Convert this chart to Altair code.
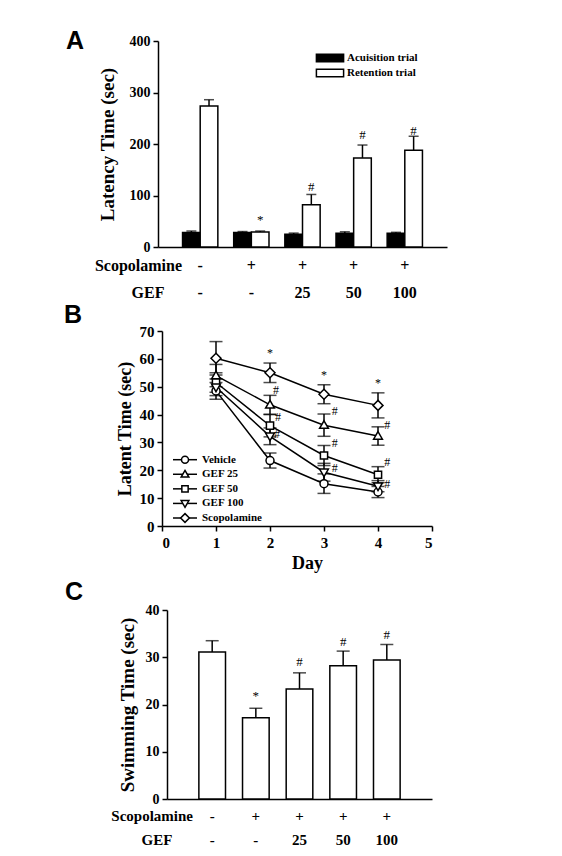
import altair as alt
import pandas as pd

SERIF = "Liberation Serif"
SANS = "Liberation Sans"

# ---------------- Panel A data ----------------
groups = ["G1", "G2", "G3", "G4", "G5"]
scop_row = ["-", "+", "+", "+", "+"]
gef_row = ["-", "-", "25", "50", "100"]
series_a = ["Acuisition trial", "Retention trial"]
acq_mean = [28, 28, 25, 26.5, 26.5]
acq_err = [3, 2, 2, 3, 2]
ret_mean = [274, 29, 82, 173, 188]
ret_err = [12, 2, 20, 25, 27]
a_ann_group = ["G2", "G3", "G4", "G5"]
a_ann_text = ["*", "#", "#", "#"]
a_ann_y = [53, 116, 217, 225]

# ---------------- Panel B data ----------------
days = [1, 2, 3, 4]
series_b = ["Vehicle", "GEF 25", "GEF 50", "GEF 100", "Scopolamine"]
b_mean = {
    "Vehicle": [48.5, 23.5, 15.2, 12.2],
    "GEF 25": [54.0, 43.5, 36.2, 32.3],
    "GEF 50": [51.5, 36.0, 25.3, 18.4],
    "GEF 100": [49.8, 32.2, 19.3, 14.3],
    "Scopolamine": [60.2, 55.0, 47.3, 43.3],
}
b_err = {
    "Vehicle": [3.0, 2.7, 3.5, 2.0],
    "GEF 25": [4.0, 3.4, 4.0, 3.3],
    "GEF 50": [3.5, 4.0, 3.6, 2.9],
    "GEF 100": [3.0, 3.0, 3.2, 2.0],
    "Scopolamine": [6.0, 3.5, 3.4, 4.5],
}
b_ann_x = [2.0, 3.0, 4.0, 2.11, 2.15, 2.13, 3.2, 3.2, 3.2, 4.17, 4.17, 4.17]
b_ann_y = [62.2, 54.1, 51.5, 48.8, 39.1, 32.9, 41.3, 29.9, 20.9, 36.1, 23.0, 15.1]
b_ann_text = ["*", "*", "*", "#", "#", "#", "#", "#", "#", "#", "#", "#"]

# ---------------- Panel C data ----------------
c_mean = [31.1, 17.2, 23.3, 28.2, 29.4]
c_err = [2.4, 2.0, 3.4, 3.1, 3.3]
c_ann_group = ["G2", "G3", "G4", "G5"]
c_ann_text = ["*", "#", "#", "#"]
c_ann_y = [21.8, 29.0, 33.3, 34.8]

# marker shapes (unit = marker radius)
marker_paths = [
    "M1,0A1,1,0,1,1,-1,0A1,1,0,1,1,1,0Z",
    "M0,-1.1L1.1,0.8L-1.1,0.8Z",
    "M-0.9,-0.9H0.9V0.9H-0.9Z",
    "M0,1.1L1.1,-0.8L-1.1,-0.8Z",
    "M0,-1.25L1.25,0L0,1.25L-1.25,0Z",
]
legend_rect_path = "M-3.4,-0.95H3.4V0.95H-3.4Z"


def y_axis(values, title, lab, tsize, tpad, offset=0):
    return alt.Axis(values=values, title=title, titleFont=SERIF, titleFontSize=tsize,
                    titleFontWeight="bold", titleColor="black", titlePadding=tpad,
                    labelFont=SERIF, labelFontSize=lab, labelFontWeight="bold",
                    labelColor="black", labelPadding=3, tickSize=5, tickWidth=1.5,
                    tickColor="black", domainColor="black", domainWidth=1.5, grid=False,
                    offset=offset)


def text_const(txt, x, y, **kw):
    return alt.Chart(pd.DataFrame({"t": [txt]})).mark_text(**kw).encode(
        text="t:N", x=alt.value(x), y=alt.value(y))


def row_labels(df, xenc, H, dy1, dy2, size):
    base = alt.Chart(df).mark_text(font=SERIF, fontSize=size, fontWeight="bold",
                                   color="black", baseline="middle")
    return base.encode(x=xenc, y=alt.value(H + dy1), text="scop:N") + \
        base.encode(x=xenc, y=alt.value(H + dy2), text="gef:N")


LETTER = dict(font=SANS, fontSize=25, fontWeight="bold", align="left",
              baseline="alphabetic", color="black")

# ================= Panel A =================
WA, HA = 289, 206
rowsA = []
for i, g in enumerate(groups):
    rowsA.append({"group": g, "series": series_a[0], "mean": acq_mean[i], "err": acq_err[i]})
    rowsA.append({"group": g, "series": series_a[1], "mean": ret_mean[i], "err": ret_err[i]})
dfA = pd.DataFrame(rowsA)
dfA["upper"] = dfA["mean"] + dfA["err"]
dfAnnA = pd.DataFrame({"group": a_ann_group, "series": series_a[1], "y": a_ann_y, "t": a_ann_text})
dfRows = pd.DataFrame({"group": groups, "scop": scop_row, "gef": gef_row})
dfLegA = pd.DataFrame({"series": series_a})

xA = alt.X("group:N", sort=groups, scale=alt.Scale(paddingInner=0.31, paddingOuter=0.48),
           axis=alt.Axis(title=None, labels=False, ticks=False, domainColor="black", domainWidth=1.5))
xoA = alt.XOffset("series:N", sort=series_a, scale=alt.Scale(paddingInner=0, paddingOuter=0))
axA = y_axis([0, 100, 200, 300, 400], "Latency Time (sec)", 14, 19, 12)
scA = alt.Scale(domain=[0, 400], nice=False)
fillA = alt.Fill("series:N", scale=alt.Scale(domain=series_a, range=["black", "white"]), legend=None)


def yA(f):
    return alt.Y(f, scale=scA, axis=axA)


barsA = alt.Chart(dfA).mark_bar(stroke="black", strokeWidth=1.5).encode(
    x=xA, xOffset=xoA, y=yA("mean:Q"), fill=fillA)
errA = alt.Chart(dfA).mark_rule(color="black", strokeWidth=1.5).encode(
    x=xA, xOffset=xoA, y=yA("mean:Q"), y2="upper:Q")
capA = alt.Chart(dfA).mark_tick(color="black", thickness=1.5, size=10, orient="horizontal").encode(
    x=xA, xOffset=xoA, y=yA("upper:Q"))
annA = alt.Chart(dfAnnA).mark_text(font=SERIF, fontSize=13, color="black", baseline="middle").encode(
    x=xA, xOffset=xoA, y=yA("y:Q"), text="t:N")

legYA = alt.Y("series:N", scale=alt.Scale(type="point", domain=series_a, range=[17, 32], padding=0),
              axis=None)
legSymA = alt.Chart(dfLegA).mark_point(filled=True, stroke="black", strokeWidth=1.5, size=64,
                                       opacity=1, shape=legend_rect_path).encode(
    x=alt.value(172), y=legYA, fill=fillA)
legTxtA = alt.Chart(dfLegA).mark_text(font=SERIF, fontSize=11, fontWeight="bold", color="black",
                                      align="left", baseline="middle").encode(
    x=alt.value(189), y=legYA, text="series:N")

mainA = alt.layer(
    barsA, errA, capA, annA,
    row_labels(dfRows, xA, HA, 19, 46, 16),
    text_const("Scopolamine", 24, HA + 19, font=SERIF, fontSize=16, fontWeight="bold",
               align="right", baseline="middle", color="black"),
    text_const("GEF", -10, HA + 46, font=SERIF, fontSize=16, fontWeight="bold",
               align="center", baseline="middle", color="black"),
    text_const("A", -92, 8, **LETTER),
)
panelA = alt.layer(mainA, alt.layer(legSymA, legTxtA)).resolve_scale(y="independent").properties(
    width=WA, height=HA)

# ================= Panel B =================
OB = 4  # plot starts 4px right of the shared origin
WB, HB = 270 + OB, 195
rowsB = []
for s in series_b:
    for j, d in enumerate(days):
        m, e = b_mean[s][j], b_err[s][j]
        rowsB.append({"series": s, "day": d, "mean": m, "lo": m - e, "hi": m + e})
dfB = pd.DataFrame(rowsB)
dfAnnB = pd.DataFrame({"x": b_ann_x, "y": b_ann_y, "t": b_ann_text})
dfLegB = pd.DataFrame({"series": series_b})

xsB = alt.Scale(domain=[0, 5], nice=False, range=[OB, WB])
xaxB = alt.Axis(values=[0, 1, 2, 3, 4, 5], title="Day", titleFont=SERIF, titleFontSize=18,
                titleFontWeight="bold", titleColor="black", titlePadding=4, titleX=145 + OB,
                labelFont=SERIF, labelFontSize=15, labelFontWeight="bold", labelColor="black",
                labelPadding=4, tickSize=5, tickWidth=1.5, tickColor="black",
                domainColor="black", domainWidth=1.5, grid=False)
axB = y_axis([0, 10, 20, 30, 40, 50, 60, 70], "Latent Time (sec)", 15, 18, 5, offset=-OB)
scB = alt.Scale(domain=[0, 70], nice=False)
shapeB = alt.Shape("series:N", scale=alt.Scale(domain=series_b, range=marker_paths), legend=None)


def xB(f):
    return alt.X(f, scale=xsB, axis=xaxB)


def yB(f):
    return alt.Y(f, scale=scB, axis=axB)


linesB = alt.Chart(dfB).mark_line(color="black", strokeWidth=1.5).encode(
    x=xB("day:Q"), y=yB("mean:Q"), detail="series:N")
errB = alt.Chart(dfB).mark_rule(color="black", strokeWidth=1.5).encode(
    x=xB("day:Q"), y=yB("lo:Q"), y2="hi:Q")
capLoB = alt.Chart(dfB).mark_tick(color="black", thickness=1.5, size=13, orient="horizontal").encode(
    x=xB("day:Q"), y=yB("lo:Q"))
capHiB = alt.Chart(dfB).mark_tick(color="black", thickness=1.5, size=13, orient="horizontal").encode(
    x=xB("day:Q"), y=yB("hi:Q"))
ptsB = alt.Chart(dfB).mark_point(filled=True, fill="white", stroke="black", strokeWidth=1.5,
                                 size=64, opacity=1).encode(
    x=xB("day:Q"), y=yB("mean:Q"), shape=shapeB)
annB = alt.Chart(dfAnnB).mark_text(font=SERIF, fontSize=12, color="black", baseline="middle").encode(
    x=xB("x:Q"), y=yB("y:Q"), text="t:N")

legYB = alt.Y("series:N", scale=alt.Scale(type="point", domain=series_b, range=[128.7, 187], padding=0),
              axis=None)
legLineB = alt.Chart(dfLegB).mark_rule(color="black", strokeWidth=1.5).encode(
    x=alt.value(11 + OB), x2=alt.value(35 + OB), y=legYB)
legSymB = alt.Chart(dfLegB).mark_point(filled=True, fill="white", stroke="black", strokeWidth=1.5,
                                       size=49, opacity=1).encode(
    x=alt.value(23 + OB), y=legYB, shape=shapeB)
legTxtB = alt.Chart(dfLegB).mark_text(font=SERIF, fontSize=11, fontWeight="bold", color="black",
                                      align="left", baseline="middle").encode(
    x=alt.value(40 + OB), y=legYB, text="series:N")

mainB = alt.layer(
    linesB, errB, capLoB, capHiB, ptsB, annB,
    text_const("B", -94, -8, **LETTER),
)
panelB = alt.layer(mainB, alt.layer(legLineB, legSymB, legTxtB)).resolve_scale(
    y="independent").properties(width=WB, height=HB)

# ================= Panel C =================
OC = 9  # plot starts 9px right of the shared origin
WC, HC = 265 + OC, 189
dfC = pd.DataFrame({"group": groups, "mean": c_mean, "err": c_err})
dfC["upper"] = dfC["mean"] + dfC["err"]
dfAnnC = pd.DataFrame({"group": c_ann_group, "y": c_ann_y, "t": c_ann_text})

xC = alt.X("group:N", sort=groups,
           scale=alt.Scale(paddingInner=0.39, paddingOuter=0.73, range=[OC, WC]),
           axis=alt.Axis(title=None, labels=False, ticks=False, domainColor="black", domainWidth=1.5))
axC = y_axis([0, 10, 20, 30, 40], "Swimming Time (sec)", 14, 19, 8, offset=-OC)
scC = alt.Scale(domain=[0, 40], nice=False)


def yC(f):
    return alt.Y(f, scale=scC, axis=axC)


barsC = alt.Chart(dfC).mark_bar(fill="white", stroke="black", strokeWidth=1.5).encode(
    x=xC, y=yC("mean:Q"))
errC = alt.Chart(dfC).mark_rule(color="black", strokeWidth=1.5).encode(
    x=xC, y=yC("mean:Q"), y2="upper:Q")
capC = alt.Chart(dfC).mark_tick(color="black", thickness=1.5, size=13, orient="horizontal").encode(
    x=xC, y=yC("upper:Q"))
annC = alt.Chart(dfAnnC).mark_text(font=SERIF, fontSize=13, color="black", baseline="middle").encode(
    x=xC, y=yC("y:Q"), text="t:N")

panelC = alt.layer(
    barsC, errC, capC, annC,
    row_labels(dfRows, xC, HC, 17, 41, 15),
    text_const("Scopolamine", 26 + OC, HC + 17, font=SERIF, fontSize=15, fontWeight="bold",
               align="right", baseline="middle", color="black"),
    text_const("GEF", -10 + OC, HC + 41, font=SERIF, fontSize=15, fontWeight="bold",
               align="center", baseline="middle", color="black"),
    text_const("C", -93, -10, **LETTER),
    # invisible spacer that keeps the gap between panels B and C
    text_const("C", -93, -16, font=SANS, fontSize=25, fontWeight="bold", align="left",
               baseline="alphabetic", opacity=0),
).properties(width=WC, height=HC)

chart = alt.vconcat(panelA, panelB, panelC, spacing=2).properties(
    padding={"left": 56, "top": 21, "right": 5, "bottom": 5},
    background="white",
).configure_view(stroke=None)

chart.save("out.html", embed_options={"renderer": "svg", "actions": False})
